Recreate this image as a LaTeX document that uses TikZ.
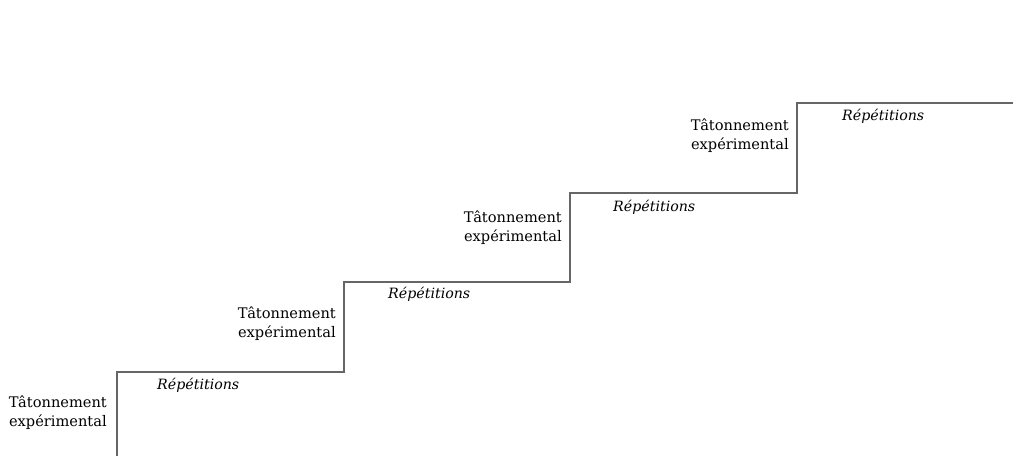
\documentclass[tikz,border=0pt]{standalone}
\usepackage{fontspec}
\setmainfont{DejaVu Serif}
\usepackage{tikz}
\usetikzlibrary{positioning}

\begin{document}
\begin{tikzpicture}[
  x=1pt, y=1pt,
  stair/.style={draw=black!60, line width=1.1pt},
  essai/.style={inner sep=0pt, align=center, font=\fontsize{14.6}{19}\selectfont, text=black},
  rep/.style={inner sep=0pt, font=\fontsize{14.2}{19}\selectfont\itshape, text=black},
]
\useasboundingbox (0,0) rectangle (1013,456);
% corners of the stairs
\coordinate (c0) at (117,0);
\coordinate (c1) at (117,84);
\coordinate (c2) at (344,84);
\coordinate (c3) at (344,174);
\coordinate (c4) at (570,174);
\coordinate (c5) at (570,263);
\coordinate (c6) at (797,263);
\coordinate (c7) at (797,353);
\coordinate (c8) at (1013,353);
\draw[stair] (c0) -- (c1) -- (c2) -- (c3) -- (c4) -- (c5) -- (c6) -- (c7) -- (c8);
% labels
\node[essai, below left=24pt and 10pt of c1] (t1) {Tâtonnement\\expérimental};
\node[essai, below left=25pt and 8pt of c3] (t2) {Tâtonnement\\expérimental};
\node[essai, below left=18pt and 8pt of c5] (t3) {Tâtonnement\\expérimental};
\node[essai, below left=16pt and 8pt of c7] (t4) {Tâtonnement\\expérimental};
\node[rep, below right=6pt and 40pt of c1] (r1) {Répétitions};
\node[rep, below right=5pt and 44pt of c3] (r2) {Répétitions};
\node[rep, below right=7pt and 43pt of c5] (r3) {Répétitions};
\node[rep, below right=6pt and 45pt of c7] (r4) {Répétitions};
\end{tikzpicture}
\end{document}
